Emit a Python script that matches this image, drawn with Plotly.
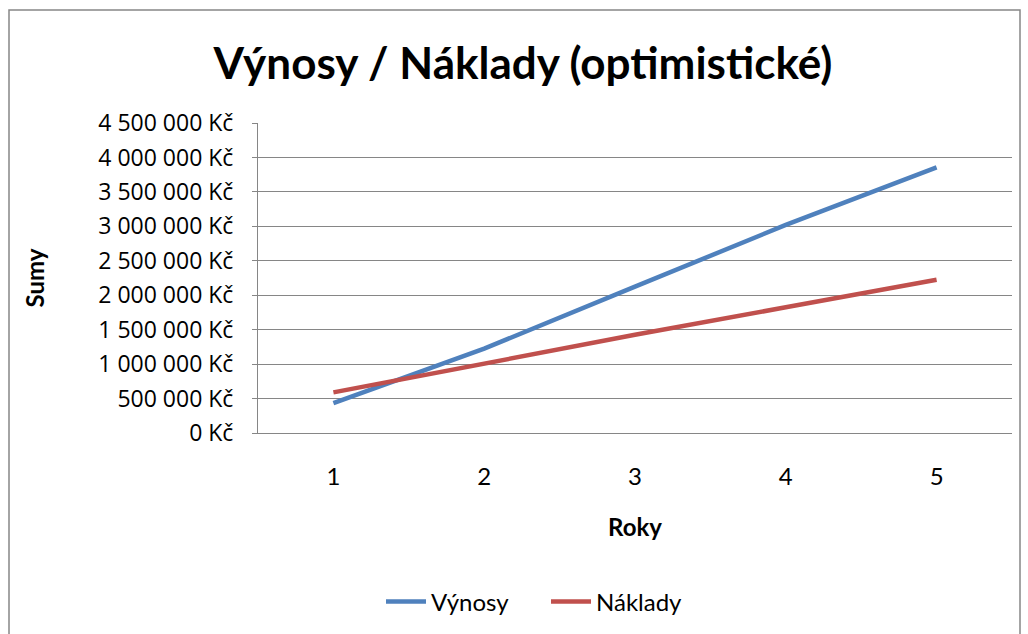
import plotly.graph_objects as go

years = [1, 2, 3, 4, 5]
vynosy = [435000, 1225000, 2125000, 3020000, 3855000]
naklady = [590000, 1010000, 1425000, 1825000, 2225000]
tick_vals = [0, 500000, 1000000, 1500000, 2000000, 2500000, 3000000, 3500000, 4000000, 4500000]
tick_text = ["{:,}".format(v).replace(",", " ") + " Kč" for v in tick_vals]

FONT = "Lato"
TICKFONT = "Open Sans"
W, H = 1028, 634
L, R, T, B = 258, 16, 123, 201

fig = go.Figure()
fig.add_trace(go.Scatter(x=years, y=vynosy, mode="lines", name="Výnosy",
                         line=dict(color="#4F81BD", width=4.5)))
fig.add_trace(go.Scatter(x=years, y=naklady, mode="lines", name="Náklady",
                         line=dict(color="#C0504D", width=4.5)))

pw = W - L - R
ph = H - T - B

fig.update_layout(
    width=W, height=H,
    margin=dict(l=L, r=R, t=T, b=B, autoexpand=False),
    paper_bgcolor="white", plot_bgcolor="white",
    font=dict(family=FONT, color="black"),
    title=dict(text="<b>Výnosy / Náklady (optimistické)</b>",
               x=523 / W, xanchor="center", y=1 - 64 / H, yanchor="middle",
               font=dict(size=44, family=FONT, color="black")),
    showlegend=True,
    legend=dict(orientation="h", x=(546 - L) / pw, xanchor="center",
                y=(T + ph - 602) / ph, yanchor="middle",
                font=dict(size=24, family=FONT), itemwidth=40,
                entrywidth=110, entrywidthmode="pixels",
                bgcolor="rgba(0,0,0,0)"),
    xaxis=dict(range=[0.5, 5.5], tickvals=years, ticktext=[str(y) for y in years],
               showgrid=False, zeroline=False, showline=True, linecolor="#868686",
               linewidth=1, ticks="", tickfont=dict(size=24, family=FONT),
               ticklabelstandoff=22,
               title=dict(text="<b>Roky</b>", font=dict(size=24, family=FONT), standoff=30)),
    yaxis=dict(range=[0, 4500000], tickvals=tick_vals, ticktext=tick_text,
               showgrid=True, gridcolor="#868686", gridwidth=1, zeroline=False,
               showline=True, linecolor="#868686", linewidth=1,
               ticks="outside", ticklen=5, tickcolor="#868686",
               tickfont=dict(size=23, family=TICKFONT), ticklabelstandoff=14,
               title=dict(text="<b>Sumy</b>", font=dict(size=24, family=FONT), standoff=46)),
    shapes=[dict(type="rect", xref="paper", yref="paper",
                 x0=(9 - L) / pw, x1=(1020 - L) / pw,
                 y0=(T + ph - 640) / ph, y1=(T + ph - 10) / ph,
                 line=dict(color="#868686", width=1.5), fillcolor="rgba(0,0,0,0)", layer="below")],
)

fig.write_html("out.html", config={"displayModeBar": False},
               post_script="document.body.style.margin='0';document.body.style.overflow='hidden';")
